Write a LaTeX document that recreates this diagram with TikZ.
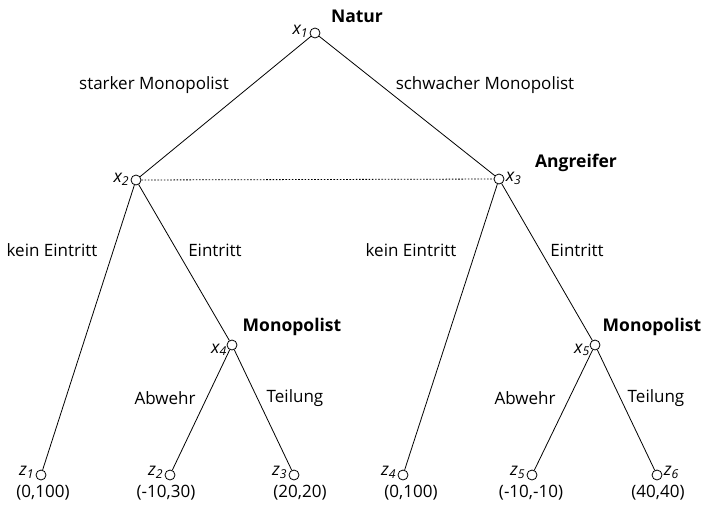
\documentclass[tikz,border=0pt]{standalone}
\usepackage{fontspec}
\setmainfont{Open Sans}
\begin{document}
\begin{tikzpicture}[x=1pt, y=-1pt, font=\fontsize{17}{20}\selectfont, line join=round, line cap=round, line width=0.8pt,
	knot/.style={circle, draw, fill=white, inner sep=0pt, minimum size=10pt},
	lbl/.style={inner sep=1pt, font=\fontsize{17.5}{20}\selectfont\itshape},
	player/.style={font=\fontsize{17.5}{20}\selectfont\bfseries}]
			\useasboundingbox (0,0) rectangle (705,504);
			% Knoten
			\node[knot] (x1) at (315,33) {};
			\node[knot] (x2) at (136,180) {};
			\node[knot] (x3) at (499,179) {};
			\node[knot] (x4) at (232,345) {};
			\node[knot] (x5) at (595,345) {};
			\node[knot] (z1) at (41,475) {};
			\node[knot] (z2) at (170,475) {};
			\node[knot] (z3) at (294,475) {};
			\node[knot] (z4) at (403,475) {};
			\node[knot] (z5) at (532,475) {};
			\node[knot] (z6) at (657,475) {};
			% Kanten
			\draw (x1)--(x2) (x1)--(x3);
			\draw (x2)--(z1) (x2)--(x4) (x4)--(z2) (x4)--(z3);
			\draw (x3)--(z4) (x3)--(x5) (x5)--(z5) (x5)--(z6);
			\draw[line cap=butt, dash pattern=on 1.6pt off 1.6pt] (x2)--(x3);
			% Spieler
			\node[player] (n1) at (357,16) {Natur};
			\node[player] (n2) at (576,163) {Angreifer};
			\node[player] (n3) at (292,327) {Monopolist};
			\node[player] (n4) at (652,327) {Monopolist};
			\node[lbl, left] at ([yshift=2pt]x1.west) {x\textsubscript{1}};
			\node[lbl, left] at ([yshift=1pt]x2.west) {x\textsubscript{2}};
			\node[lbl, right] at ([yshift=1pt]x3.east) {x\textsubscript{3}};
			\node[lbl, left] at ([yshift=-1pt]x4.south west) {x\textsubscript{4}};
			\node[lbl, left] at ([yshift=-1pt]x5.south west) {x\textsubscript{5}};
			\node[lbl, left] at ([yshift=3pt]z1.west) {z\textsubscript{1}};
			\node[lbl, left] at ([yshift=3pt]z2.west) {z\textsubscript{2}};
			\node[lbl, left] at ([yshift=3pt]z3.west) {z\textsubscript{3}};
			\node[lbl, left] at ([yshift=3pt]z4.west) {z\textsubscript{4}};
			\node[lbl, left] at ([yshift=3pt]z5.west) {z\textsubscript{5}};
			\node[lbl, right] at ([yshift=3pt]z6.east) {z\textsubscript{6}};
			% Aktionen
			\node (a1) at (154,85) {starker Monopolist};
			\node (a2) at (485,85) {schwacher Monopolist};
			\node (a3) at (52,250) {kein Eintritt};
			\node (a4) at (215,250) {Eintritt};
			\node (a5) at (411,250) {kein Eintritt};
			\node (a6) at (577,250) {Eintritt};
			\node (a7) at (165,398) {Abwehr};
			\node (a8) at (295,398) {Teilung};
			\node (a9) at (525,398) {Abwehr};
			\node (a10) at (656,398) {Teilung};
			% Auszahlungen
			\node (p1) at (43,493) {(0,100)};
			\node (p2) at (166,493) {(-10,30)};
			\node (p3) at (300,493) {(20,20)};
			\node (p4) at (411,493) {(0,100)};
			\node (p5) at (531,493) {(-10,-10)};
			\node (p6) at (658,493) {(40,40)};
		\end{tikzpicture}
\end{document}
